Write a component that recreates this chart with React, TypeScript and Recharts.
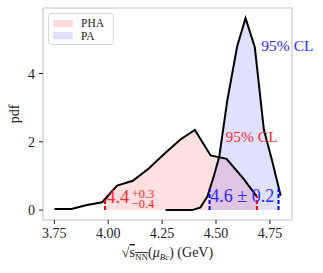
import React from 'react';
import {
  ComposedChart,
  Area,
  Line,
  XAxis,
  YAxis,
  ReferenceLine,
  ReferenceArea,
  ReferenceDot,
  Legend,
  Label,
} from 'recharts';

// PHA posterior (full curve and 95% CL band)
const phaX = [3.751, 3.829, 3.902, 3.972, 4.041, 4.114, 4.188, 4.262, 4.335, 4.402, 4.475, 4.549, 4.629, 4.688];
const phaY = [0.03, 0.03, 0.15, 0.23, 0.72, 0.86, 1.22, 1.66, 2.07, 2.35, 1.6, 1.5, 0.91, 0.41];
const phaBandX = [3.985, 4.041, 4.114, 4.188, 4.262, 4.335, 4.402, 4.475, 4.549, 4.629, 4.688];
const phaBandY = [0.3, 0.72, 0.86, 1.22, 1.66, 2.07, 2.35, 1.6, 1.5, 0.91, 0.41];

// PA posterior
const paX = [4.266, 4.32, 4.39, 4.428, 4.46, 4.49, 4.515, 4.552, 4.598, 4.637, 4.68, 4.722, 4.76, 4.8];
const paY = [0.0, 0.0, 0.0, 0.08, 0.4, 1.0, 1.56, 3.2, 4.79, 5.62, 4.77, 2.35, 1.45, 0.42];
const paBandX = [4.47, 4.49, 4.515, 4.552, 4.598, 4.637, 4.68, 4.722, 4.76, 4.79];
const paBandY = [0.6, 1.0, 1.56, 3.2, 4.79, 5.62, 4.77, 2.35, 1.45, 0.65];

// CL limits and the curve height there
const phaLimits = [3.985, 4.69];
const phaLimitTops = [0.3, 0.41];
const paLimits = [4.47, 4.79];
const paLimitTops = [0.6, 0.62];

const xTicks = [3.75, 4.0, 4.25, 4.5, 4.75];
const yTicks = [0, 2, 4];
const xDomain = [3.6975, 4.8525];
const yDomain = [-0.29, 5.92];

const toPoints = (xs: number[], ys: number[]) => xs.map((x, i) => ({ x, y: ys[i] }));

const phaData = toPoints(phaX, phaY);
const phaBand = toPoints(phaBandX, phaBandY);
const paData = toPoints(paX, paY);
const paBand = toPoints(paBandX, paBandY);

const FONT = '"Liberation Serif", "DejaVu Serif", serif';
const RED = '#ff2a2a';
const BLUE = '#2a2aff';

const XTick = (props: any) => (
  <text x={props.x} y={props.y} dy="0.71em" textAnchor="middle" fontFamily={FONT} fontSize={14} fill="#222">
    {Number(props.payload.value).toFixed(2)}
  </text>
);

const YTick = (props: any) => (
  <text x={props.x} y={props.y} dy="0.355em" textAnchor="end" fontFamily={FONT} fontSize={14} fill="#222">
    {props.payload.value}
  </text>
);

const XTitle = (props: any) => {
  const vb = props.viewBox;
  const cx = vb.x + vb.width / 2;
  const y = vb.y + 37;
  return (
    <text x={cx} y={y} textAnchor="middle" fontFamily={FONT} fontSize={14} fill="#222">
      √<tspan style={{ textDecoration: 'overline' }}>s<tspan fontSize={9} dy={3}>NN</tspan></tspan>
      <tspan dy={-3}>(</tspan>
      <tspan fontStyle="italic">μ</tspan>
      <tspan fontSize={9} fontStyle="italic" dy={3}>Bc</tspan>
      <tspan dy={-3}>) (GeV)</tspan>
    </text>
  );
};

const YTitle = (props: any) => {
  const vb = props.viewBox;
  const cy = vb.y + vb.height / 2;
  return (
    <text x={19} y={cy} transform={`rotate(-90 19 ${cy})`} textAnchor="middle" fontFamily={FONT} fontSize={14} fill="#222">
      pdf
    </text>
  );
};

const PhaValue = (props: any) => {
  const { x, y } = props.viewBox;
  return (
    <g fontFamily={FONT} fill={RED}>
      <text x={x} y={y} fontSize={18.5}>4.4</text>
      <text x={x + 25.5} y={y - 5.5} fontSize={12.5}>+0.3</text>
      <text x={x + 25.5} y={y + 5} fontSize={12.5}>−0.4</text>
    </g>
  );
};

const TextAt = (text: string, color: string, size: number) => (props: any) => {
  const { x, y } = props.viewBox;
  return (
    <text x={x} y={y} fontFamily={FONT} fontSize={size} fill={color}>
      {text}
    </text>
  );
};

const LegendBox = () => (
  <div
    style={{
      border: '1px solid #d6d6d6',
      borderRadius: 3,
      background: 'white',
      padding: '3px 4px',
      fontFamily: FONT,
      fontSize: 11.5,
      color: '#222',
      width: 66,
      height: 32,
      boxSizing: 'border-box',
    }}
  >
    {[
      { name: 'PHA', color: 'rgba(255,0,0,0.14)' },
      { name: 'PA', color: 'rgba(0,0,255,0.12)' },
    ].map((e) => (
      <div key={e.name} style={{ display: 'flex', alignItems: 'center', height: 12.5 }}>
        <span style={{ display: 'inline-block', width: 20, height: 7, background: e.color, marginRight: 8 }} />
        <span>{e.name}</span>
      </div>
    ))}
  </div>
);

export default function App() {
  return (
    <div style={{ position: 'absolute', left: 0, top: 0, width: 323, height: 273, background: 'white' }}>
      <ComposedChart width={323} height={273} margin={{ top: 8, right: 31, left: 0, bottom: 0 }}>
        <XAxis
          dataKey="x"
          type="number"
          domain={xDomain}
          allowDataOverflow
          ticks={xTicks}
          tick={<XTick />}
          tickSize={4}
          tickMargin={4}
          tickLine={{ stroke: '#222' }}
          axisLine={false}
          height={53}
        >
          <Label content={<XTitle />} />
        </XAxis>
        <YAxis
          type="number"
          domain={yDomain}
          allowDataOverflow
          ticks={yTicks}
          tick={<YTick />}
          tickSize={4}
          tickMargin={4}
          tickLine={{ stroke: '#222' }}
          axisLine={false}
          width={43}
        >
          <Label content={<YTitle />} />
        </YAxis>
        <Legend
          verticalAlign="middle"
          align="center"
          content={<LegendBox />}
          wrapperStyle={{ position: 'absolute', left: 48, top: 13, width: 66, height: 32 }}
        />
        <ReferenceArea
          x1={xDomain[0]}
          x2={xDomain[1]}
          y1={yDomain[0]}
          y2={yDomain[1]}
          fill="none"
          stroke="#bdbdbd"
          strokeWidth={1}
        />
        <Area
          data={phaBand}
          dataKey="y"
          type="linear"
          baseValue={0}
          stroke="none"
          fill="#ff0000"
          fillOpacity={0.12}
          isAnimationActive={false}
        />
        <Area
          data={paBand}
          dataKey="y"
          type="linear"
          baseValue={0}
          stroke="none"
          fill="#0000ff"
          fillOpacity={0.12}
          isAnimationActive={false}
        />
        <Line data={phaData} dataKey="y" type="linear" stroke="#000" strokeWidth={2} dot={false} isAnimationActive={false} />
        <Line data={paData} dataKey="y" type="linear" stroke="#000" strokeWidth={2} dot={false} isAnimationActive={false} />
        {phaLimits.map((x, i) => (
          <ReferenceLine
            key={'r' + i}
            segment={[{ x, y: 0 }, { x, y: phaLimitTops[i] }]}
            stroke="red"
            strokeWidth={2}
            strokeDasharray="4 2"
          />
        ))}
        {paLimits.map((x, i) => (
          <ReferenceLine
            key={'b' + i}
            segment={[{ x, y: 0 }, { x, y: paLimitTops[i] }]}
            stroke="blue"
            strokeWidth={2}
            strokeDasharray="4 2"
          />
        ))}
        <ReferenceDot x={3.995} y={0.17} r={1} fill="none" stroke="none" label={PhaValue} />
        <ReferenceDot x={4.478} y={0.22} r={1} fill="none" stroke="none" label={TextAt('4.6 ± 0.2', BLUE, 18)} />
        <ReferenceDot x={4.549} y={1.96} r={1} fill="none" stroke="none" label={TextAt('95% CL', RED, 15.5)} />
        <ReferenceDot x={4.715} y={4.62} r={1} fill="none" stroke="none" label={TextAt('95% CL', BLUE, 15.5)} />
      </ComposedChart>
    </div>
  );
}
